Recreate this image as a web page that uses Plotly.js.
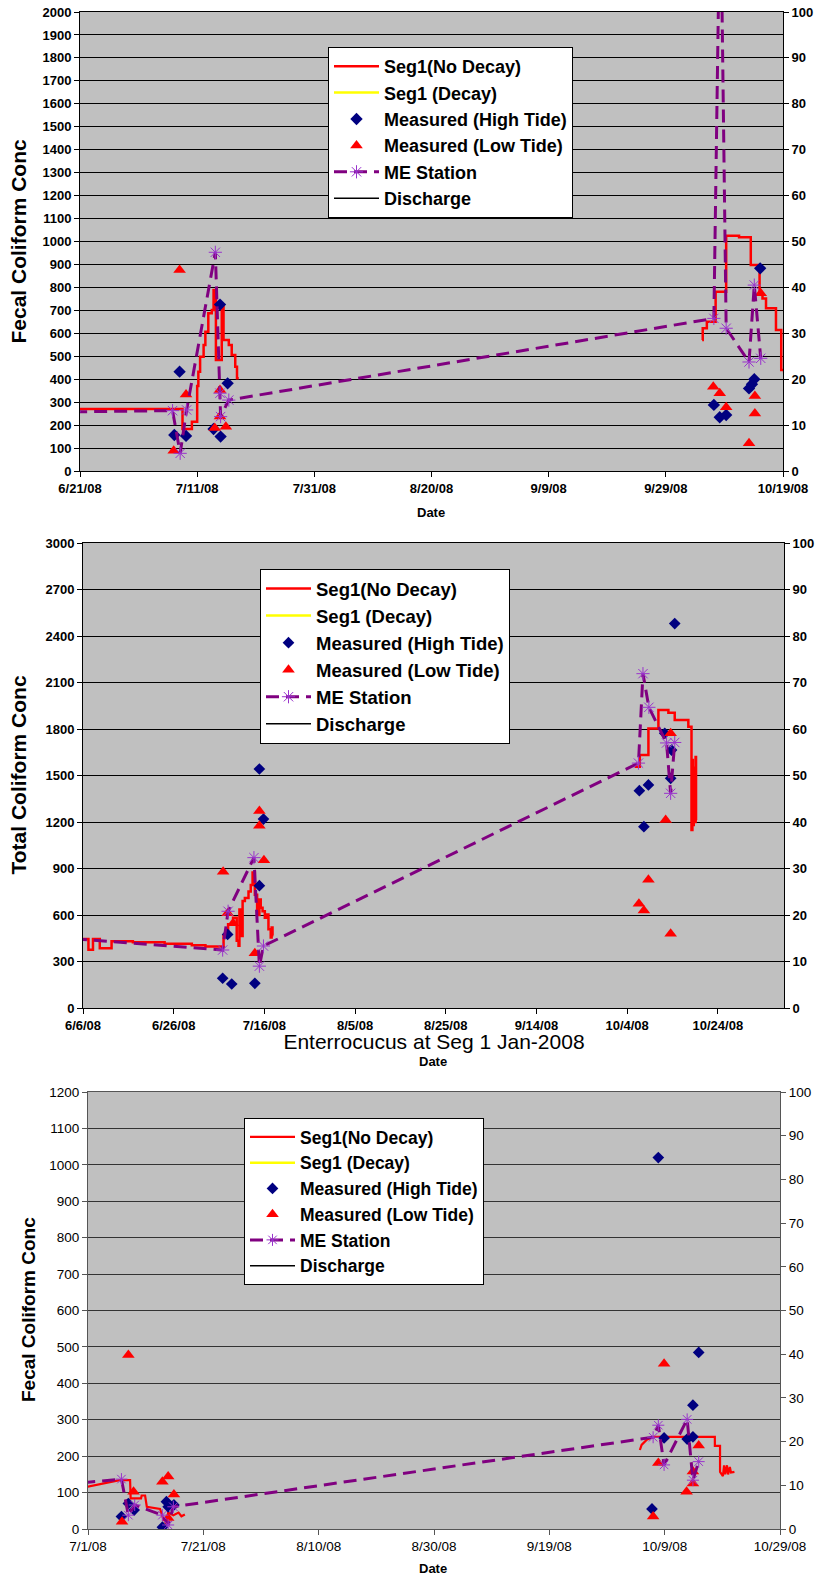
<!DOCTYPE html>
<html><head><meta charset="utf-8">
<script src="https://cdn.plot.ly/plotly-3.0.1.min.js"></script>
<style>html,body{margin:0;padding:0;background:#fff}</style>
</head><body><div id="chart" style="width:825px;height:1595px"></div>
<script>
// ---------- shared ----------
const seriesNames = ['Seg1(No Decay)','Seg1 (Decay)','Measured (High Tide)','Measured (Low Tide)','ME Station','Discharge'];

// ---------- Chart 1 : Fecal Coliform ----------
const c1TickVals = ['2008-06-21','2008-07-11','2008-07-31','2008-08-20','2008-09-09','2008-09-29','2008-10-19'];
const c1TickText = ['6/21/08','7/11/08','7/31/08','8/20/08','9/9/08','9/29/08','10/19/08'];
const c1SegX = ['2008-06-20','2008-07-08 12:00','2008-07-10 02:24','2008-07-11 00:00','2008-07-11 04:48','2008-07-11 12:00','2008-07-12 02:24','2008-07-12 09:36','2008-07-12 21:36','2008-07-13 12:00','2008-07-13 19:12','2008-07-14 04:48','2008-07-15 04:48','2008-07-15 12:00','2008-07-16 09:36','2008-07-16 21:36','2008-07-17 12:00','2008-07-17 19:12','2008-07-18 02:24','2008-08-01',
  '2008-10-05 04:48','2008-10-05 07:12','2008-10-06 00:00','2008-10-07 12:00','2008-10-09 07:12','2008-10-11 12:00','2008-10-13 12:00','2008-10-15 00:00','2008-10-15 12:00','2008-10-16 02:24','2008-10-17 19:12','2008-10-18 16:48','2008-10-19 04:48'];
const c1SegY = [270,183,215,370,433,498,549,607,687,701,789,484,716,571,549,505,454,404,404,null,
  571,622,650,781,1025,1018,898,770,752,709,614,440,425];
const c1DecayX = [null], c1DecayY = [null];
const c1HighX = ['2008-07-07 02:24','2008-07-08 00:00','2008-07-09 02:24','2008-07-13 19:12','2008-07-14 21:36','2008-07-15 00:00','2008-07-16 04:48','2008-10-07 04:48','2008-10-08 04:48','2008-10-09 07:12','2008-10-13 04:48','2008-10-13 16:48','2008-10-14 02:24','2008-10-15 02:24'];
const c1HighY = [157,433,153,183,725,150,382,288,234,244,360,378,400,883];
const c1LowX = ['2008-07-07 00:00','2008-07-08 00:00','2008-07-09 02:24','2008-07-14 00:00','2008-07-14 21:36','2008-07-14 21:36','2008-07-15 21:36','2008-10-07 02:24','2008-10-08 04:48','2008-10-09 07:12','2008-10-13 04:48','2008-10-14 04:48','2008-10-14 04:48','2008-10-15 04:48'];
const c1LowY = [88,876,333,187,353,237,193,367,339,278,121,327,251,774];
const c1MeX = ['2008-06-20','2008-07-06 19:12','2008-07-08 02:24','2008-07-09 04:48','2008-07-14 02:24','2008-07-14 21:36','2008-07-15 00:00','2008-07-16 09:36','2008-10-07 04:48','2008-10-08 07:12','2008-10-09 07:12','2008-10-13 04:48','2008-10-14 02:24','2008-10-15 04:48'];
const c1MeY = [258,263,77,266,953,339,237,309,665,2600,622,475,810,491];
const c1DisX = [null], c1DisY = [null];

// ---------- Chart 2 : Total Coliform ----------
const c2TickVals = ['2008-06-06','2008-06-26','2008-07-16','2008-08-05','2008-08-25','2008-09-14','2008-10-04','2008-10-24'];
const c2TickText = ['6/6/08','6/26/08','7/16/08','8/5/08','8/25/08','9/14/08','10/4/08','10/24/08'];
const c2SegX = ['2008-06-04','2008-06-07 04:48','2008-06-08 04:48','2008-06-09 16:48','2008-06-12 07:12','2008-06-17','2008-06-24','2008-06-30','2008-07-03','2008-07-07 00:00','2008-07-08 00:00','2008-07-09 02:24','2008-07-09 21:36','2008-07-10 07:12','2008-07-10 12:00','2008-07-10 19:12','2008-07-11 04:48','2008-07-11 16:48','2008-07-12 12:00','2008-07-13 00:00','2008-07-13 09:36','2008-07-13 21:36','2008-07-14 09:36','2008-07-14 21:36','2008-07-15 04:48','2008-07-15 14:24','2008-07-16 02:24','2008-07-16 12:00','2008-07-16 21:36','2008-07-17 09:36','2008-07-17 14:24','2008-07-17 19:12','2008-07-18 00:00','2008-08-01',
  '2008-10-05 16:48','2008-10-06 19:12','2008-10-08 16:48','2008-10-10 21:36','2008-10-13 02:24','2008-10-14 12:00','2008-10-17 12:00','2008-10-18 04:48','2008-10-18 09:36','2008-10-18 12:00','2008-10-18 16:48','2008-10-18 21:36','2008-10-19 02:24','2008-10-19 04:48','2008-10-19 09:36'];
const c2SegY = [445,376,445,385,430,425,415,405,397,470,540,582,434,402,635,465,690,710,752,794,875,730,600,700,646,624,582,603,508,455,520,470,470,null,
  1557,1632,1804,1922,1905,1858,1815,1149,1600,1180,1550,1200,1620,1213,1213];
const c2DecayX = [null], c2DecayY = [null];
const c2HighX = ['2008-07-06 19:12','2008-07-07 21:36','2008-07-08 19:12','2008-07-13 21:36','2008-07-14 21:36','2008-07-14 21:36','2008-07-15 19:12','2008-10-06 16:48','2008-10-07 16:48','2008-10-08 16:48','2008-10-12 07:12','2008-10-13 14:24','2008-10-13 19:12','2008-10-14 12:00'];
const c2HighY = [192,475,155,159,1542,789,1219,1402,1170,1439,1772,1482,1664,2480];
const c2LowX = ['2008-07-06 21:36','2008-07-07 21:36','2008-07-09 02:24','2008-07-13 21:36','2008-07-14 21:36','2008-07-14 21:36','2008-07-15 21:36','2008-10-06 14:24','2008-10-07 16:48','2008-10-08 16:48','2008-10-12 12:00','2008-10-13 14:24','2008-10-13 14:24'];
const c2LowY = [879,611,546,353,1271,1176,953,672,629,827,1213,1772,479];
const c2MeX = ['2008-06-04','2008-07-06 19:12','2008-07-08 00:00','2008-07-13 16:48','2008-07-14 21:36','2008-07-15 19:12','2008-10-06 12:00','2008-10-07 12:00','2008-10-08 19:12','2008-10-12 16:48','2008-10-13 14:24','2008-10-14 12:00'];
const c2MeY = [446,374,624,970,270,400,1580,2157,1940,1710,1385,1713];
const c2DisX = [null], c2DisY = [null];

// ---------- Chart 3 : Enterococcus ----------
const c3Title = 'Enterrocucus at Seg 1 Jan-2008';
const c3TickVals = ['2008-07-01','2008-07-21','2008-08-10','2008-08-30','2008-09-19','2008-10-09','2008-10-29'];
const c3TickText = ['7/1/08','7/21/08','8/10/08','8/30/08','9/19/08','10/9/08','10/29/08'];
const c3SegX = ['2008-06-30','2008-07-03 21:36','2008-07-06 12:00','2008-07-08 07:12','2008-07-08 09:36','2008-07-10 04:48','2008-07-10 07:12','2008-07-10 21:36','2008-07-11 04:48','2008-07-13 12:00','2008-07-14 00:00','2008-07-14 14:24','2008-07-14 21:36','2008-07-15 19:12','2008-07-16 16:48','2008-07-17 04:48','2008-07-17 19:12','2008-08-01',
  '2008-10-04 16:48','2008-10-05 00:00','2008-10-05 21:36','2008-10-07 00:00','2008-10-17 16:48','2008-10-17 17:00','2008-10-18 14:24','2008-10-18 14:30','2008-10-19 02:24','2008-10-19 07:12','2008-10-19 12:00','2008-10-19 19:12','2008-10-20 00:00','2008-10-20 07:12','2008-10-20 12:00','2008-10-21 02:24'];
const c3SegY = [113,125,134,134,84,84,92,92,61,55,30,15,45,38,45,35,40,null,
  217,231,245,253,253,228,228,157,145,175,150,175,150,170,155,157];
const c3DecayX = [null], c3DecayY = [null];
const c3HighX = ['2008-07-06 19:12','2008-07-08','2008-07-09','2008-07-13 21:36','2008-07-14 14:24','2008-07-14 21:36','2008-07-15 21:36','2008-10-06 19:12','2008-10-07 21:36','2008-10-08 21:36','2008-10-12 21:36','2008-10-13 21:36','2008-10-13 21:36','2008-10-14 21:36'];
const c3HighY = [34,70,52,5,75,61,66,55,1020,250,247,253,340,485];
const c3LowX = ['2008-07-06 21:36','2008-07-08','2008-07-08 21:36','2008-07-13 21:36','2008-07-14 21:36','2008-07-14 21:36','2008-07-15 21:36','2008-10-07','2008-10-07 21:36','2008-10-08 21:36','2008-10-12 19:12','2008-10-13 21:36','2008-10-13 21:36','2008-10-14 21:36'];
const c3LowY = [20,478,102,130,144,30,95,34,181,454,102,125,158,229];
const c3MeX = ['2008-06-30','2008-07-06 19:12','2008-07-08','2008-07-09 02:24','2008-07-13 21:36','2008-07-14 21:36','2008-07-15 19:12','2008-10-07','2008-10-07 21:36','2008-10-08 21:36','2008-10-12 21:36','2008-10-13 21:36','2008-10-14 21:36'];
const c3MeY = [127,137,38,66,38,11,61,252,285,176,301,134,185];
const c3DisX = [null], c3DisY = [null];

// ---------- build ----------
const W = 825, H = 1595;
const px = v => v / W, py = v => 1 - v / H;
const FONT = 'Liberation Sans, Arial, sans-serif';

function traces(d, n, sz) {
  const xa = n === 1 ? 'x' : 'x' + n, ya = n === 1 ? 'y' : 'y' + n, yr = 'y' + (n + 3);
  const lg = n === 1 ? 'legend' : 'legend' + n;
  return [
    {name: seriesNames[0], x: d.seg[0], y: d.seg[1], mode: 'lines', line: {color: '#ff0000', width: sz.red, shape: d.shape}, xaxis: xa, yaxis: ya, legend: lg},
    {name: seriesNames[1], x: d.dec[0], y: d.dec[1], mode: 'lines', line: {color: '#ffff00', width: 2.5}, xaxis: xa, yaxis: ya, legend: lg},
    {name: seriesNames[2], x: d.hi[0], y: d.hi[1], mode: 'markers', marker: {symbol: 'diamond', color: '#000080', size: sz.dia}, xaxis: xa, yaxis: ya, legend: lg},
    {name: seriesNames[3], x: d.lo[0], y: d.lo[1], mode: 'markers', marker: {symbol: 'triangle-up', color: '#ff0000', size: sz.tri}, xaxis: xa, yaxis: ya, legend: lg},
    {name: seriesNames[4], x: d.me[0], y: d.me[1], mode: 'lines+markers', line: {color: '#800080', width: 3, dash: '13px,7px'},
      marker: {symbol: 'asterisk-open', size: sz.star, color: '#9933cc', line: {color: '#9933cc', width: 1}}, xaxis: xa, yaxis: ya, legend: lg},
    {name: seriesNames[5], x: d.dis[0], y: d.dis[1], mode: 'lines', line: {color: '#000000', width: 1.5}, xaxis: xa, yaxis: yr, legend: lg}
  ];
}

const data = [].concat(
  traces({seg: [c1SegX, c1SegY], shape: 'hv', dec: [c1DecayX, c1DecayY], hi: [c1HighX, c1HighY], lo: [c1LowX, c1LowY], me: [c1MeX, c1MeY], dis: [c1DisX, c1DisY]}, 1, {red: 2.5, dia: 9.5, tri: 11, star: 11}),
  traces({seg: [c2SegX, c2SegY], shape: 'hv', dec: [c2DecayX, c2DecayY], hi: [c2HighX, c2HighY], lo: [c2LowX, c2LowY], me: [c2MeX, c2MeY], dis: [c2DisX, c2DisY]}, 2, {red: 2.5, dia: 9, tri: 11, star: 11}),
  traces({seg: [c3SegX, c3SegY], shape: 'linear', dec: [c3DecayX, c3DecayY], hi: [c3HighX, c3HighY], lo: [c3LowX, c3LowY], me: [c3MeX, c3MeY], dis: [c3DisX, c3DisY]}, 3, {red: 2.2, dia: 9, tri: 11, star: 10})
);

const boldTick = {family: FONT, size: 13, color: '#000', weight: 'bold'};
const regTick = {family: FONT, size: 13.5, color: '#000'};

function xAxis(l, r, range, tv, tt, yanchor, font, lc) {
  return {type: 'date', domain: [px(l), px(r)], range: range, tickmode: 'array', tickvals: tv, ticktext: tt,
    ticks: 'outside', ticklen: 5, tickcolor: lc, showline: true, linecolor: lc, linewidth: 1, mirror: true,
    showgrid: false, zeroline: false, anchor: yanchor, tickfont: font, fixedrange: true};
}
function yAxis(t, b, max, dt, xanchor, font, gc, lc) {
  return {domain: [py(b), py(t)], range: [0, max], tick0: 0, dtick: dt, ticks: 'outside', ticklen: 5, tickcolor: lc,
    showline: true, linecolor: lc, showgrid: true, gridcolor: gc, gridwidth: 1, zeroline: false, anchor: xanchor, tickfont: font};
}
function yRight(ov, xanchor, font, lc) {
  return {overlaying: ov, side: 'right', anchor: xanchor, range: [0, 100], tick0: 0, dtick: 10, ticks: 'outside', ticklen: 5,
    tickcolor: lc, showline: true, linecolor: lc, showgrid: false, zeroline: false, tickfont: font};
}
function legendAt(l, t, size) {
  return {x: px(l), y: py(t), xanchor: 'left', yanchor: 'top', bgcolor: '#ffffff', bordercolor: '#000000', borderwidth: 1,
    font: {family: FONT, size: size, color: '#000', weight: 'bold'}, itemwidth: 45, traceorder: 'normal'};
}
function ann(text, x, y, size, bold, angle) {
  return {text: text, x: px(x), y: py(y), xref: 'paper', yref: 'paper', showarrow: false, xanchor: 'center', yanchor: 'middle',
    textangle: angle || 0, font: {family: FONT, size: size, color: '#000', weight: bold ? 'bold' : 'normal'}};
}

const layout = {
  width: W, height: H, margin: {l: 0, r: 0, t: 0, b: 0}, paper_bgcolor: '#ffffff', plot_bgcolor: '#c0c0c0', showlegend: true,
  title: {text: c3Title, x: px(434), y: py(1042), xref: 'paper', yref: 'paper', xanchor: 'center', yanchor: 'middle', font: {family: FONT, size: 21, color: '#000'}},
  xaxis: xAxis(80, 783, ['2008-06-21', '2008-10-19'], c1TickVals, c1TickText, 'y', boldTick, '#000'),
  yaxis: yAxis(12, 471, 2000, 100, 'x', boldTick, '#000', '#000'),
  yaxis4: yRight('y', 'x', boldTick, '#000'),
  xaxis2: xAxis(83, 784, ['2008-06-06', '2008-11-07 14:24'], c2TickVals, c2TickText, 'y2', boldTick, '#000'),
  yaxis2: yAxis(543, 1008, 3000, 300, 'x2', boldTick, '#000', '#000'),
  yaxis5: yRight('y2', 'x2', boldTick, '#000'),
  xaxis3: xAxis(88, 780, ['2008-07-01', '2008-10-29'], c3TickVals, c3TickText, 'y3', regTick, '#555'),
  yaxis3: yAxis(1092, 1529, 1200, 100, 'x3', regTick, '#333', '#555'),
  yaxis6: yRight('y3', 'x3', regTick, '#555'),
  legend: legendAt(328, 47, 18),
  legend2: legendAt(260, 569, 18.5),
  legend3: legendAt(244, 1118, 17.5),
  annotations: [
    ann('Fecal Coliform Conc', 18, 241.5, 21, true, -90),
    ann('Date', 431, 512, 13, true),
    ann('Total Coliform Conc', 18, 775.5, 21, true, -90),
    ann('Date', 433, 1061, 13, true),
    ann('Fecal Coliform Conc', 28, 1310, 19, true, -90),
    ann('Date', 433, 1568, 13, true)
  ]
};

Plotly.newPlot('chart', data, layout, {displayModeBar: false, staticPlot: true});
</script></body></html>
